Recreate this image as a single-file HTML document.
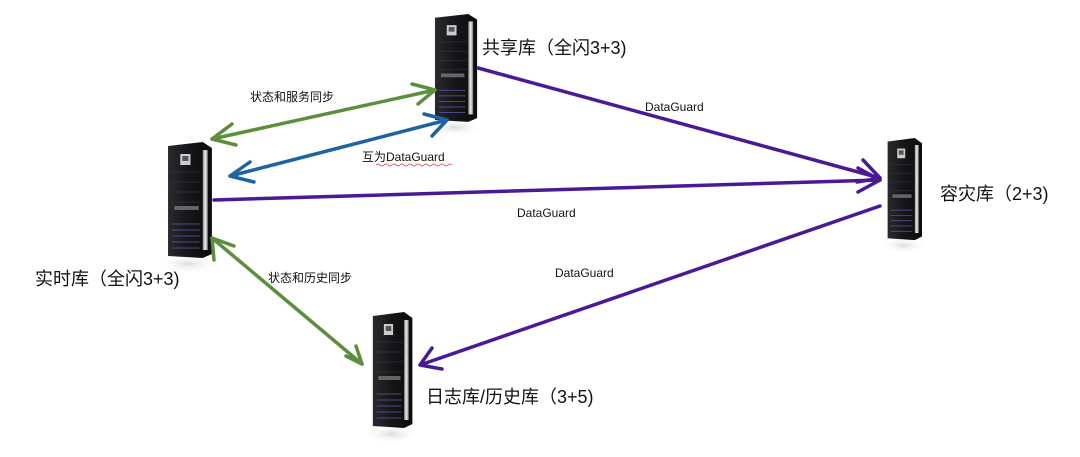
<!DOCTYPE html>
<html><head><meta charset="utf-8">
<style>
html,body{margin:0;padding:0;background:#fff;}
body{width:1080px;height:457px;overflow:hidden;position:relative;font-family:"Liberation Sans","Noto Sans CJK SC",sans-serif;}
svg{position:absolute;left:0;top:0;}
.t{font-family:"Liberation Sans","Noto Sans CJK SC",sans-serif;fill:#111;}
</style></head><body>
<svg width="1080" height="457" viewBox="0 0 1080 457">
<defs>
<linearGradient id="body" x1="0" x2="1">
<stop offset="0" stop-color="#2a2a2e"/><stop offset="0.5" stop-color="#151518"/><stop offset="1" stop-color="#0c0c0e"/>
</linearGradient>
<linearGradient id="side" x1="0" x2="1">
<stop offset="0" stop-color="#888"/><stop offset="0.5" stop-color="#eee"/><stop offset="1" stop-color="#777"/>
</linearGradient>
<radialGradient id="sh"><stop offset="0" stop-color="#ddd"/><stop offset="1" stop-color="#fff" stop-opacity="0"/></radialGradient>
<g id="srv">
<!-- unit 0..45 x 0..116 -->
<ellipse cx="22" cy="122" rx="30" ry="10" fill="url(#sh)"/>
<path d="M2,4 L36,0 L45,6 L45,112 L36,116 L2,114 Z" fill="url(#body)"/>
<rect x="36" y="8" width="5" height="100" fill="url(#side)"/>
<rect x="14" y="12" width="10" height="11" fill="#ccc"/>
<rect x="16" y="14" width="6" height="5" fill="#555"/>
<g stroke="#333" stroke-width="0.7">
<line x1="4" y1="30" x2="34" y2="30"/><line x1="4" y1="40" x2="34" y2="40"/><line x1="4" y1="50" x2="34" y2="50"/><line x1="4" y1="60" x2="34" y2="60"/>
</g>
<rect x="8" y="64" width="24" height="4" fill="#666"/>
<g stroke="#5a5aa8" stroke-width="0.8">
<line x1="6" y1="82" x2="33" y2="82"/><line x1="6" y1="88" x2="33" y2="88"/><line x1="6" y1="94" x2="33" y2="94"/><line x1="6" y1="100" x2="33" y2="100"/><line x1="6" y1="106" x2="33" y2="106"/>
</g>
</g>
</defs>

<use href="#srv" transform="translate(166,142) scale(1.02,1.0)"/>
<use href="#srv" transform="translate(433,14) scale(0.98,0.93)"/>
<use href="#srv" transform="translate(886,138) scale(0.8,0.88)"/>
<use href="#srv" transform="translate(371,312) scale(0.92,1.0)"/>

<g fill="none" stroke-width="3.5" stroke-linecap="round" stroke-linejoin="round">
<!-- green top -->
<g stroke="#5b8f3e">
<line x1="212" y1="139" x2="435" y2="90"/>
<polyline points="232,124 212,139 236,145"/>
<polyline points="412,84 435,90 418,104"/>
<line x1="212" y1="238" x2="362" y2="364"/>
<polyline points="214,260 212,238 234,246"/>
<polyline points="346,356 362,364 356,346"/>
</g>
<g stroke="#1c63a0">
<line x1="230" y1="176" x2="447" y2="120"/>
<polyline points="250,162 230,176 254,182"/>
<polyline points="424,114 447,120 432,136"/>
</g>
<g stroke="#4a1a96">
<line x1="214" y1="200" x2="880" y2="180"/>
<polyline points="858,168 880,180 858,192"/>
<line x1="478" y1="68" x2="880" y2="178"/>
<polyline points="863,160 880,178 857,182"/>
<line x1="880" y1="206" x2="420" y2="365"/>
<polyline points="432,348 420,365 442,369"/>
</g>
</g>

<text class="t" x="250" y="101" font-size="12">状态和服务同步</text>
<text class="t" x="362" y="161" font-size="12">互为DataGuard</text>
<path d="M376,165 q2,-2 4,0 q2,2 4,0 q2,-2 4,0 q2,2 4,0 q2,-2 4,0 q2,2 4,0 q2,-2 4,0 q2,2 4,0 q2,-2 4,0 q2,2 4,0 q2,-2 4,0 q2,2 4,0 q2,-2 4,0 q2,2 4,0 q2,-2 4,0 q2,2 4,0 q2,-2 4,0 q2,2 4,0 q2,-2 4,0" fill="none" stroke="#e33" stroke-width="0.8"/>
<text class="t" x="645" y="111" font-size="12">DataGuard</text>
<text class="t" x="517" y="217" font-size="12">DataGuard</text>
<text class="t" x="555" y="277" font-size="12">DataGuard</text>
<text class="t" x="268" y="282" font-size="12">状态和历史同步</text>
<text class="t" x="482" y="54" font-size="18">共享库（全闪3+3)</text>
<text class="t" x="940" y="200" font-size="18">容灾库（2+3)</text>
<text class="t" x="35" y="285" font-size="18">实时库（全闪3+3)</text>
<text class="t" x="426" y="403" font-size="18">日志库/历史库（3+5)</text>
</svg>
</body></html>
